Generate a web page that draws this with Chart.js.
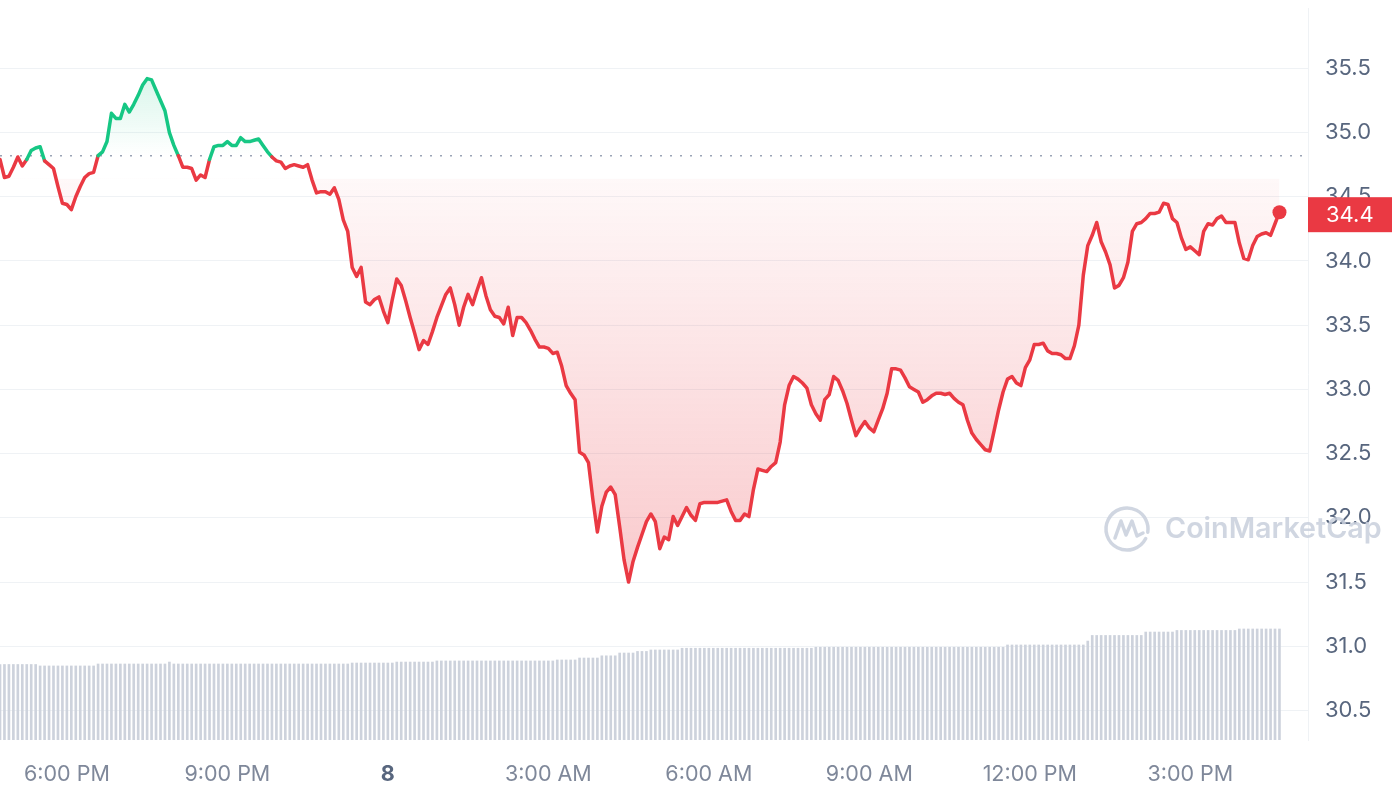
<!DOCTYPE html>
<html>
<head>
<meta charset="utf-8">
<script src="https://cdn.jsdelivr.net/npm/chart.js@4.4.0/dist/chart.umd.min.js"></script>
<style>
  html, body { margin: 0; padding: 0; background: #ffffff; }
  #wrap { width: 1392px; height: 792px; }
</style>
</head>
<body>
<div id="wrap"><canvas id="priceChart" width="1392" height="792"></canvas></div>
<script>
// 24h chart, one point every 5 minutes, first point at 4:45 PM (hours relative to midnight of the 8th)
var startHour = -7.25;
var stepHour = 1 / 12;
var endHour = 17.2;
var openPrice = 34.82;

var prices = [
  34.79, 34.65, 34.66, 34.73, 34.81, 34.74, 34.79, 34.86, 34.88, 34.89,
  34.78, 34.75, 34.72, 34.58, 34.45, 34.44, 34.40, 34.50, 34.58, 34.65,
  34.68, 34.69, 34.82, 34.85, 34.93, 35.15, 35.11, 35.11, 35.22, 35.16,
  35.22, 35.29, 35.37, 35.42, 35.41, 35.33, 35.25, 35.17, 35.00, 34.90,
  34.82, 34.73, 34.73, 34.72, 34.63, 34.67, 34.65, 34.79, 34.89, 34.90,
  34.90, 34.93, 34.90, 34.90, 34.96, 34.93, 34.93, 34.94, 34.95, 34.90,
  34.85, 34.81, 34.78, 34.77, 34.72, 34.74, 34.75, 34.74, 34.73, 34.75,
  34.63, 34.53, 34.54, 34.54, 34.52, 34.57, 34.48, 34.32, 34.23, 33.95,
  33.88, 33.95, 33.68, 33.66, 33.70, 33.72, 33.61, 33.52, 33.70, 33.86,
  33.81, 33.69, 33.56, 33.44, 33.31, 33.38, 33.35, 33.45, 33.56, 33.65,
  33.74, 33.79, 33.66, 33.50, 33.64, 33.74, 33.66, 33.77, 33.87, 33.73,
  33.62, 33.57, 33.56, 33.51, 33.64, 33.42, 33.56, 33.56, 33.52, 33.46,
  33.39, 33.33, 33.33, 33.32, 33.28, 33.29, 33.18, 33.03, 32.97, 32.92,
  32.51, 32.49, 32.43, 32.14, 31.89, 32.09, 32.20, 32.24, 32.18, 31.93,
  31.67, 31.50, 31.66, 31.77, 31.87, 31.97, 32.03, 31.97, 31.76, 31.85,
  31.83, 32.01, 31.94, 32.01, 32.08, 32.02, 31.98, 32.11, 32.12, 32.12,
  32.12, 32.12, 32.13, 32.14, 32.05, 31.98, 31.98, 32.03, 32.01, 32.22,
  32.38, 32.37, 32.36, 32.40, 32.43, 32.59, 32.88, 33.03, 33.10, 33.08,
  33.05, 33.01, 32.88, 32.81, 32.76, 32.92, 32.96, 33.10, 33.07, 32.99,
  32.89, 32.76, 32.64, 32.70, 32.75, 32.70, 32.67, 32.76, 32.85, 32.97,
  33.16, 33.16, 33.15, 33.09, 33.02, 33.00, 32.98, 32.90, 32.92, 32.95,
  32.97, 32.97, 32.96, 32.97, 32.93, 32.90, 32.88, 32.76, 32.66, 32.61,
  32.57, 32.53, 32.52, 32.68, 32.84, 32.98, 33.08, 33.10, 33.05, 33.03,
  33.17, 33.23, 33.35, 33.35, 33.36, 33.30, 33.28, 33.28, 33.27, 33.24,
  33.24, 33.34, 33.50, 33.89, 34.12, 34.20, 34.30, 34.15, 34.07, 33.97,
  33.79, 33.81, 33.87, 33.99, 34.23, 34.29, 34.30, 34.33, 34.37, 34.37,
  34.38, 34.45, 34.44, 34.33, 34.30, 34.18, 34.09, 34.11, 34.08, 34.05,
  34.23, 34.29, 34.28, 34.33, 34.35, 34.30, 34.30, 34.30, 34.14, 34.02,
  34.01, 34.12, 34.19, 34.21, 34.22, 34.20, 34.29, 34.38
];

// 24h volume (millions), one row per hour
var volumes = [
  61.9, 61.9, 61.9, 61.9, 61.9, 61.9, 61.9, 61.9, 61.9, 60.7, 60.7, 60.7,
  60.7, 60.7, 60.7, 60.7, 60.7, 60.7, 60.7, 60.7, 60.7, 60.7, 62.3, 62.3,
  62.3, 62.3, 62.3, 62.3, 62.3, 62.3, 62.3, 62.3, 62.3, 62.3, 62.3, 62.3,
  62.3, 62.3, 63.9, 62.3, 62.3, 62.3, 62.3, 62.3, 62.3, 62.3, 62.3, 62.3,
  62.3, 62.3, 62.3, 62.3, 62.3, 62.3, 62.3, 62.3, 62.3, 62.3, 62.3, 62.3,
  62.3, 62.3, 62.3, 62.3, 62.3, 62.3, 62.3, 62.3, 62.3, 62.3, 62.3, 62.3,
  62.3, 62.3, 62.3, 62.3, 62.3, 62.3, 62.3, 63.1, 63.1, 63.1, 63.1, 63.1,
  63.1, 63.1, 63.1, 63.1, 63.1, 63.9, 63.9, 63.9, 63.9, 63.9, 63.9, 63.9,
  63.9, 63.9, 64.8, 64.8, 64.8, 64.8, 64.8, 64.8, 64.8, 64.8, 64.8, 64.8,
  64.8, 64.8, 64.8, 64.8, 64.8, 64.8, 64.8, 64.8, 64.8, 64.8, 64.8, 64.8,
  64.8, 64.8, 64.8, 64.8, 64.8, 65.6, 65.6, 65.6, 65.6, 65.6, 67.2, 67.2,
  67.2, 67.2, 67.2, 69.0, 69.0, 69.0, 69.0, 71.3, 71.3, 71.3, 71.3, 72.6,
  72.6, 72.6, 73.8, 73.8, 73.8, 73.8, 73.8, 73.8, 73.8, 75.2, 75.2, 75.2,
  75.2, 75.2, 75.2, 75.2, 75.2, 75.2, 75.2, 75.2, 75.2, 75.2, 75.2, 75.2,
  75.2, 75.2, 75.2, 75.2, 75.2, 75.2, 75.2, 75.2, 75.2, 75.2, 75.2, 75.2,
  75.2, 75.2, 75.2, 76.0, 76.0, 76.0, 76.0, 76.0, 76.0, 76.0, 76.0, 76.0,
  76.0, 76.0, 76.0, 76.0, 76.0, 76.0, 76.0, 76.0, 76.0, 76.0, 76.0, 76.0,
  76.0, 76.0, 76.0, 76.0, 76.0, 76.0, 76.0, 76.0, 76.0, 76.0, 76.0, 76.0,
  76.0, 76.0, 76.0, 76.0, 76.0, 76.0, 76.0, 76.0, 76.0, 76.0, 77.9, 77.9,
  77.9, 77.9, 77.9, 77.9, 77.9, 77.9, 77.9, 77.9, 77.9, 77.9, 77.9, 77.9,
  77.9, 77.9, 77.9, 77.9, 81.1, 85.7, 85.7, 85.7, 85.7, 85.7, 85.7, 85.7,
  85.7, 85.7, 85.7, 85.7, 85.7, 88.5, 88.5, 88.5, 88.5, 88.5, 88.5, 88.5,
  89.8, 89.8, 89.8, 89.8, 89.8, 89.8, 89.8, 89.8, 89.8, 89.8, 89.8, 89.8,
  89.8, 89.8, 91.0, 91.0, 91.0, 91.0, 91.0, 91.0, 91.0, 91.0, 91.0, 91.0
];

var tickHours = [-6, -3, 0, 3, 6, 9, 12, 15];
var tickLabels = ['6:00 PM', '9:00 PM', '8', '3:00 AM', '6:00 AM', '9:00 AM', '12:00 PM', '3:00 PM'];
var priceTicks = [30.5, 31.0, 31.5, 32.0, 32.5, 33.0, 33.5, 34.0, 34.5, 35.0, 35.5];

var green = '#16c784';
var red = '#ea3943';
var fontFamily = 'Inter, "Noto Sans", sans-serif';
var fillLevel = 34.64;

function hourOf(i){
  return startHour + i * stepHour;
}

// gradient: green above the open price, red below the fill level
function fillGradient(context){
  var chart = context.chart;
  var area = chart.chartArea;
  var yScale = chart.scales.y;
  if (!area || !yScale) return 'rgba(0,0,0,0)';
  var g = chart.ctx.createLinearGradient(0, area.top, 0, area.bottom);
  function stop(v, color){
    var p = (yScale.getPixelForValue(v) - area.top) / (area.bottom - area.top);
    g.addColorStop(Math.min(1, Math.max(0, p)), color);
  }
  stop(35.45, 'rgba(22,199,132,0.17)');
  stop(openPrice, 'rgba(22,199,132,0)');
  stop(fillLevel + 0.005, 'rgba(234,57,67,0)');
  stop(fillLevel - 0.005, 'rgba(234,57,67,0.035)');
  stop(31.5, 'rgba(234,57,67,0.27)');
  return g;
}

function noPadding(s){
  s.paddingTop = 0;
  s.paddingBottom = 0;
  s.paddingLeft = 0;
  s.paddingRight = 0;
}

var priceTag = {
  id: 'priceTag',
  afterDraw: function(chart){
    var ctx = chart.ctx;
    var area = chart.chartArea;
    var last = prices[prices.length - 1];
    var y = chart.scales.y.getPixelForValue(last);
    ctx.save();
    ctx.fillStyle = red;
    ctx.fillRect(area.right, y - 15, chart.width - area.right, 35);
    ctx.fillStyle = '#ffffff';
    ctx.font = '22px ' + fontFamily;
    ctx.textBaseline = 'middle';
    ctx.textAlign = 'left';
    ctx.fillText(last.toFixed(1), area.right + 18, y + 3);
    ctx.restore();
  }
};

var watermark = {
  id: 'watermark',
  afterDraw: function(chart){
    var ctx = chart.ctx;
    var area = chart.chartArea;
    var col = 'rgba(200,207,220,0.85)';
    var cx = area.right - 181;
    var cy = 529;
    ctx.save();
    ctx.strokeStyle = col;
    ctx.lineWidth = 3.5;
    ctx.lineCap = 'round';
    ctx.lineJoin = 'round';
    ctx.beginPath();
    ctx.arc(cx, cy, 21, 0.15 * Math.PI, 2.05 * Math.PI);
    ctx.stroke();
    ctx.beginPath();
    ctx.moveTo(cx - 12, cy + 9);
    ctx.lineTo(cx - 6, cy - 8);
    ctx.lineTo(cx - 1, cy + 6);
    ctx.lineTo(cx + 5, cy - 8);
    ctx.lineTo(cx + 10, cy + 7);
    ctx.lineTo(cx + 16, cy + 4);
    ctx.stroke();
    ctx.fillStyle = col;
    ctx.font = '600 29px ' + fontFamily;
    var w = ctx.measureText('CoinMarketCap').width;
    var size = 29 * 217 / w;
    ctx.font = '600 ' + size.toFixed(1) + 'px ' + fontFamily;
    ctx.textBaseline = 'alphabetic';
    ctx.fillText('CoinMarketCap', area.right - 143, 538);
    ctx.restore();
  }
};

function drawChart(){
  var ctx = document.getElementById('priceChart').getContext('2d');
  var chart = new Chart(ctx, {
    type: 'line',
    data: {
      datasets: [
        {
          type: 'line',
          label: 'Price',
          data: prices.map(function(p, i){ return { x: hourOf(i), y: p }; }),
          yAxisID: 'y',
          borderColor: red,
          borderWidth: 3.5,
          borderJoinStyle: 'round',
          borderCapStyle: 'round',
          tension: 0,
          segment: {
            borderColor: function(s){
              return (s.p0.parsed.y + s.p1.parsed.y) / 2 >= openPrice ? green : red;
            }
          },
          fill: { target: { value: fillLevel } },
          backgroundColor: fillGradient,
          pointRadius: function(c){ return c.dataIndex === prices.length - 1 ? 7 : 0; },
          pointBackgroundColor: red,
          pointBorderWidth: 0,
          clip: 8,
          order: 0
        },
        {
          type: 'line',
          label: 'Open',
          data: [{ x: startHour, y: openPrice }, { x: endHour, y: openPrice }],
          yAxisID: 'y',
          borderColor: '#9aa3b5',
          borderWidth: 1.6,
          borderDash: [2, 8],
          pointRadius: 0,
          fill: false,
          order: 1
        },
        {
          type: 'bar',
          label: 'Volume',
          data: volumes.map(function(v, i){ return { x: hourOf(i), y: v }; }),
          yAxisID: 'vol',
          backgroundColor: '#cdd2dc',
          barThickness: 2,
          order: 2
        }
      ]
    },
    options: {
      responsive: false,
      animation: false,
      events: [],
      layout: { autoPadding: false, padding: { top: 8, left: 0, right: 0, bottom: 0 } },
      plugins: {
        legend: { display: false },
        tooltip: { enabled: false }
      },
      scales: {
        x: {
          type: 'linear',
          min: startHour,
          max: endHour,
          offset: false,
          grid: { display: false },
          border: { display: false },
          afterFit: function(s){ s.height = 52; noPadding(s); },
          afterBuildTicks: function(s){
            s.ticks = tickHours.map(function(h){ return { value: h }; });
          },
          ticks: {
            autoSkip: false,
            maxRotation: 0,
            padding: 14,
            callback: function(v){ return tickLabels[tickHours.indexOf(v)]; },
            color: function(c){ return c.tick && c.tick.value === 0 ? '#58667e' : '#7f889a'; },
            font: function(c){
              return c.tick && c.tick.value === 0
                ? { family: fontFamily, size: 21.5, weight: 'bold' }
                : { family: fontFamily, size: 21.5 };
            }
          }
        },
        y: {
          position: 'right',
          min: 30.27,
          max: 35.97,
          grid: { color: '#eff2f5', lineWidth: 1, drawTicks: false },
          border: { display: true, color: '#eff2f5' },
          afterFit: function(s){ s.width = 84; noPadding(s); },
          afterBuildTicks: function(s){
            s.ticks = priceTicks.map(function(v){ return { value: v }; });
          },
          ticks: {
            padding: 17,
            color: '#58667e',
            font: { family: fontFamily, size: 22 },
            callback: function(v){ return Number(v).toFixed(1); }
          }
        },
        vol: {
          type: 'linear',
          display: false,
          min: 0,
          max: 600
        }
      }
    },
    plugins: [priceTag, watermark]
  });
  return chart;
}

drawChart();
</script>
</body>
</html>
